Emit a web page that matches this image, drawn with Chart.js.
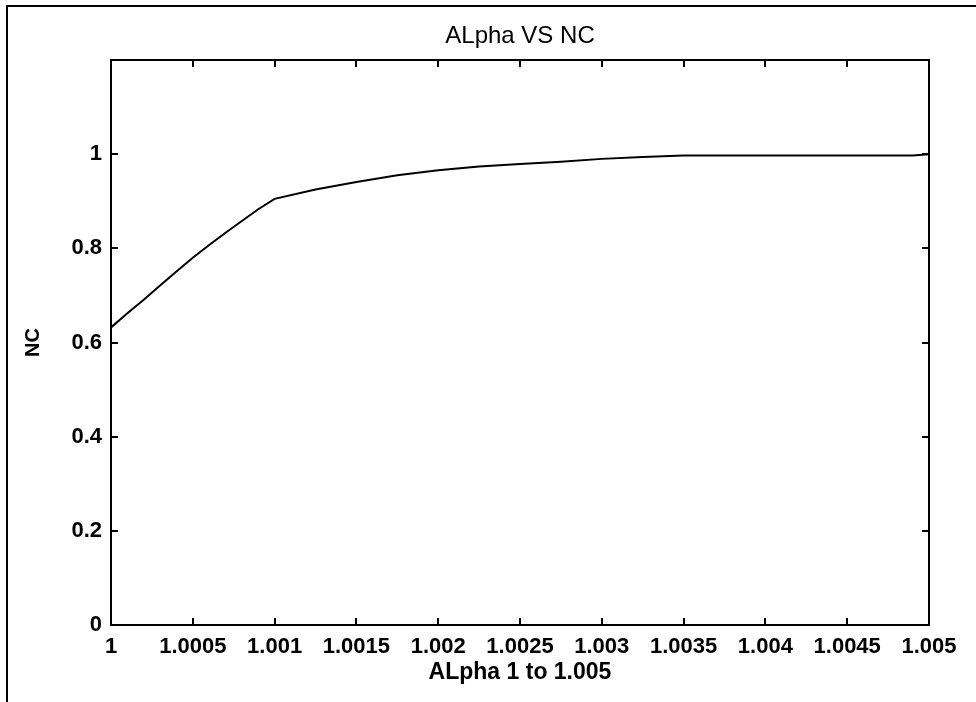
<!DOCTYPE html>
<html>
<head>
<meta charset="utf-8">
<title>ALpha VS NC</title>
<script src="https://cdn.jsdelivr.net/npm/chart.js@4"></script>
<style>
  html, body { margin: 0; padding: 0; background: #fff; }
  #wrap { position: relative; width: 976px; height: 702px; overflow: hidden; }
  #frame {
    position: absolute; left: 6px; top: 5px; width: 1200px; height: 900px;
    border-top: 2px solid #000; border-left: 2px solid #000;
  }
  #chart { position: absolute; left: 0; top: 0; }
</style>
</head>
<body>
<div id="wrap">
  <div id="frame"></div>
  <canvas id="chart" width="976" height="702"></canvas>
</div>
<script>
// alpha (x) and NC (y)
const alphaValues = [
  1, 1.0001, 1.0002, 1.0003, 1.0004, 1.0005, 1.0006, 1.0007, 1.0008, 1.0009, 1.001,
  1.00125, 1.0015, 1.00175, 1.002, 1.00225, 1.0025, 1.00275, 1.003, 1.00325, 1.0035,
  1.004, 1.0045, 1.0049, 1.005
];
const ncValues = [
  0.632, 0.662, 0.691, 0.721, 0.751, 0.780, 0.807, 0.833, 0.858, 0.883, 0.905,
  0.925, 0.941, 0.955, 0.966, 0.974, 0.979, 0.984, 0.990, 0.994, 0.997,
  0.997, 0.997, 0.997, 1.0
];

const xTickValues = [1, 1.0005, 1.001, 1.0015, 1.002, 1.0025, 1.003, 1.0035, 1.004, 1.0045, 1.005];
const xTickLabels = ['1', '1.0005', '1.001', '1.0015', '1.002', '1.0025', '1.003', '1.0035', '1.004', '1.0045', '1.005'];
const yTickValues = [0, 0.2, 0.4, 0.6, 0.8, 1];
const yTickLabels = ['0', '0.2', '0.4', '0.6', '0.8', '1'];

const tickFont = { family: 'Liberation Sans', size: 22, weight: 'bold' };
const inTick = { display: true, drawOnChartArea: false, color: '#000', lineWidth: 2, tickLength: -7 };
const boxBorder = { display: true, color: '#000', width: 2 };

function setTicks(values) {
  return scale => { scale.ticks = values.map(v => ({ value: v })); };
}
function fixWidth(w) { return scale => { scale.width = w; }; }
function fixHeight(h) { return scale => { scale.height = h; }; }

const points = alphaValues.map((a, i) => ({ x: a, y: ncValues[i] }));

new Chart(document.getElementById('chart').getContext('2d'), {
  type: 'line',
  data: {
    datasets: [{
      data: points,
      borderColor: '#000',
      borderWidth: 2,
      pointRadius: 0,
      tension: 0,
      fill: false
    }]
  },
  options: {
    responsive: false,
    animation: false,
    layout: { padding: { left: 0, right: 47, top: 0, bottom: 0 } },
    plugins: {
      legend: { display: false },
      tooltip: { enabled: false },
      title: { display: false }
    },
    scales: {
      x: {
        type: 'linear',
        position: 'bottom',
        min: 1,
        max: 1.005,
        afterBuildTicks: setTicks(xTickValues),
        afterFit: fixHeight(77),
        grid: inTick,
        border: boxBorder,
        ticks: {
          color: '#000',
          font: tickFont,
          padding: 16,
          maxRotation: 0,
          autoSkip: false,
          callback: (v, i) => xTickLabels[i]
        },
        title: {
          display: true,
          text: 'ALpha 1 to 1.005',
          color: '#000',
          font: { family: 'Liberation Sans', size: 23, weight: 'bold' },
          padding: { top: 0, bottom: 16 }
        }
      },
      xTop: {
        type: 'linear',
        position: 'top',
        min: 1,
        max: 1.005,
        afterBuildTicks: setTicks(xTickValues),
        afterFit: fixHeight(60),
        grid: inTick,
        border: boxBorder,
        ticks: { display: false },
        title: {
          display: true,
          text: 'ALpha VS NC',
          color: '#000',
          font: { family: 'Liberation Sans', size: 24 },
          padding: { top: 22, bottom: 0 }
        }
      },
      y: {
        type: 'linear',
        position: 'left',
        min: 0,
        max: 1.2,
        afterBuildTicks: setTicks(yTickValues),
        afterFit: fixWidth(111),
        grid: inTick,
        border: boxBorder,
        ticks: {
          color: '#000',
          font: tickFont,
          padding: 16,
          callback: (v, i) => yTickLabels[i]
        },
        title: {
          display: true,
          text: 'NC',
          color: '#000',
          font: { family: 'Liberation Sans', size: 20, weight: 'bold' },
          padding: { top: 21, bottom: 0 }
        }
      },
      yRight: {
        type: 'linear',
        position: 'right',
        min: 0,
        max: 1.2,
        afterBuildTicks: setTicks(yTickValues),
        afterFit: fixWidth(0),
        grid: inTick,
        border: boxBorder,
        ticks: { display: false }
      }
    }
  }
});
</script>
</body>
</html>
